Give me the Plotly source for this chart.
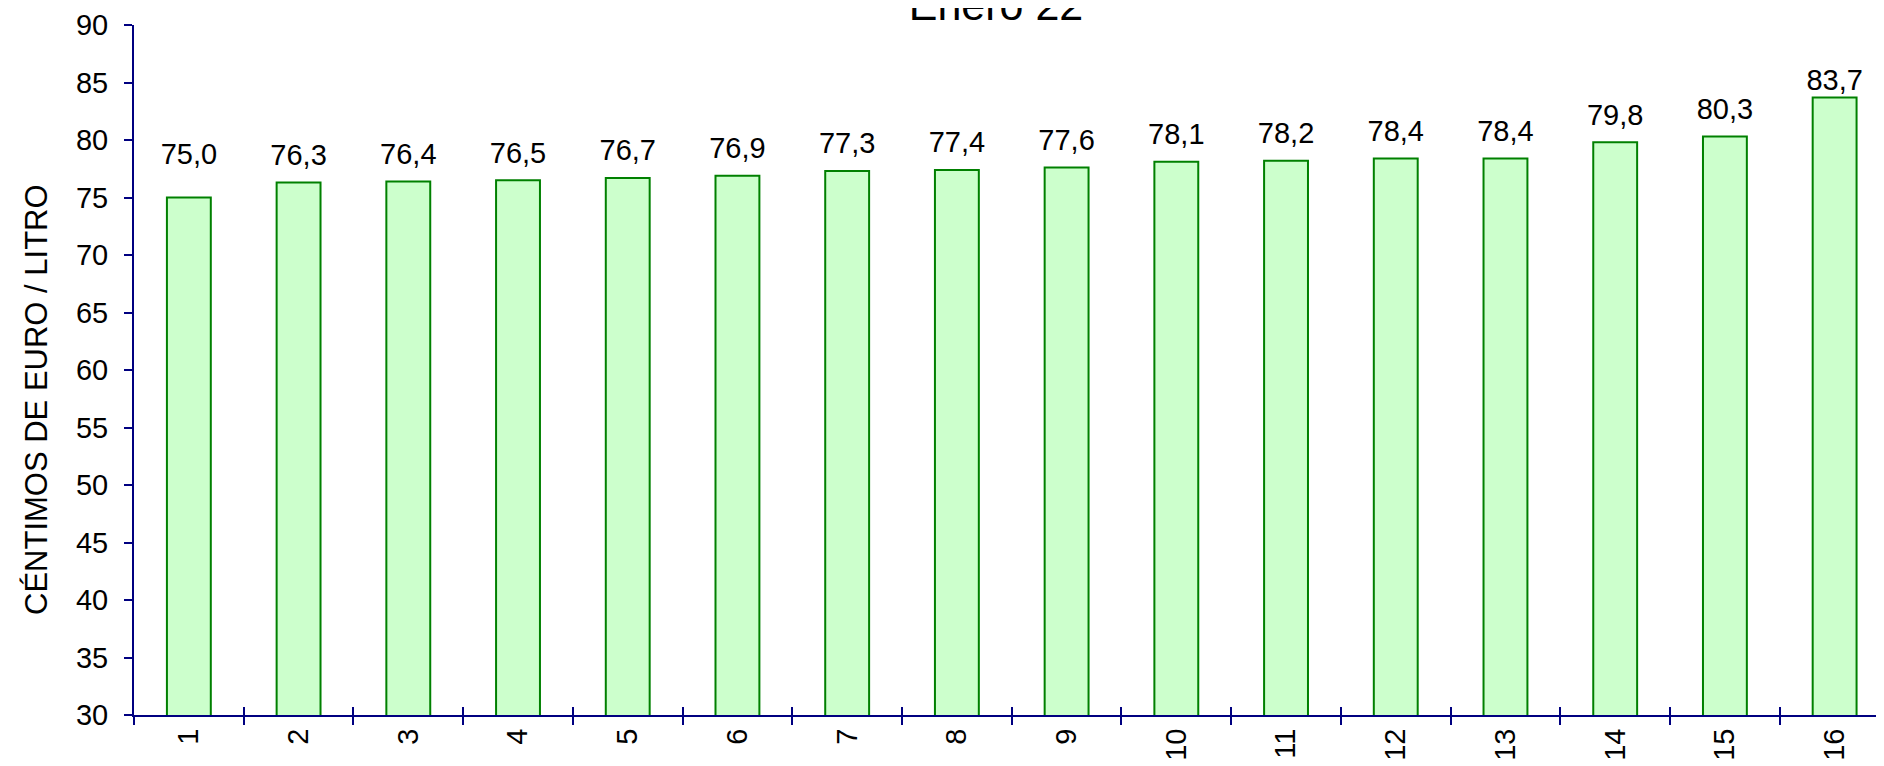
import plotly.graph_objects as go

categories = [str(i) for i in range(1, 17)]
values = [75.0, 76.3, 76.4, 76.5, 76.7, 76.9, 77.3, 77.4, 77.6, 78.1, 78.2, 78.4, 78.4, 79.8, 80.3, 83.7]
title_text = "Enero 22"
y_title = "CÉNTIMOS DE EURO / LITRO"

# style only: spacing of each value label above its bar (invisible marker size)
label_pad = [40, 15, 15, 15, 15, 15, 15, 15, 15, 15, 15, 15, 15, 15, 15, 0]

FONT = "Liberation Sans, Arial, sans-serif"
NAVY = "#000080"

# the page body has an 8px margin; size the figure to fill the rest of the window
W, H = 1876, 758
L, T, B = 126, 17, 51

fig = go.Figure()
fig.add_trace(go.Bar(
    x=categories, y=values, width=0.4,
    marker=dict(color="#CCFFCC", line=dict(color="#008000", width=2)),
    showlegend=False, hoverinfo="y",
))
# value labels placed above each bar
fig.add_trace(go.Scatter(
    x=categories, y=values, mode="markers+text",
    marker=dict(size=label_pad, opacity=0),
    texttemplate="%{y:.1f}", textposition="top center",
    textfont=dict(family=FONT, size=29, color="black"),
    cliponaxis=False, showlegend=False, hoverinfo="skip",
))
# invisible helper trace so the overlay axis (inner half of crossing ticks) exists
fig.add_trace(go.Scatter(
    x=categories, y=values, xaxis="x2", mode="markers",
    marker=dict(opacity=0), showlegend=False, hoverinfo="skip",
))

xr = [-0.5, 15.45]
plot_h = H - T - B
plot_w = W - L
fig.update_layout(
    width=W, height=H,
    margin=dict(l=L, r=0, t=T, b=B),
    plot_bgcolor="white", paper_bgcolor="white",
    separators=",.",
    title=dict(text=title_text, font=dict(family=FONT, size=43, color="black"),
               x=988 / W, xref="container", xanchor="center",
               y=1 - 12 / H, yref="container", yanchor="bottom", automargin=False),
    xaxis=dict(type="category", range=xr, tickson="boundaries", ticks="outside",
               ticklen=8, tickwidth=2, tickcolor=NAVY, showline=True, linecolor=NAVY,
               linewidth=2, showgrid=False, tickangle=-90, automargin=False,
               tickfont=dict(family=FONT, size=29, color="black")),
    xaxis2=dict(type="category", range=xr, overlaying="x", tickson="boundaries",
                ticks="inside", ticklen=8, tickwidth=2, tickcolor=NAVY, automargin=False,
                showticklabels=False, showline=False, showgrid=False, side="bottom"),
    yaxis=dict(range=[30, 90], dtick=5, ticks="outside", ticklen=8, tickwidth=2,
               tickcolor=NAVY, showline=True, linecolor=NAVY, linewidth=2,
               showgrid=False, zeroline=False, ticklabelstandoff=10, automargin=False,
               tickfont=dict(family=FONT, size=29, color="black")),
    annotations=[dict(text=y_title, textangle=-90, xref="paper", yref="paper",
                      x=(28 - L) / plot_w, y=(T + plot_h - 392) / plot_h,
                      xanchor="center", yanchor="middle", showarrow=False,
                      font=dict(family=FONT, size=31, color="black"))],
)

fig.write_html("out.html")
